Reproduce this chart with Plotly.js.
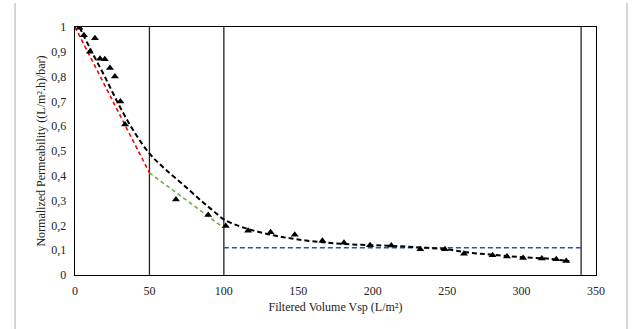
<!DOCTYPE html>
<html>
<head>
<meta charset="utf-8">
<script src="https://cdn.plot.ly/plotly-3.0.1.min.js"></script>
<style>html,body{margin:0;padding:0;background:#fff;}#chart{width:632px;height:329px;}</style>
</head>
<body>
<div id="chart"></div>
<script>
// Measured points
var volX = [3, 6, 13.4, 10, 16.8, 20, 23.5, 26.8, 30.5, 33.6, 67.8, 89.5, 101.3, 116.3, 131.4, 147.6, 166.2, 180.7, 198.2, 212.5, 232, 248.5, 261.3, 280.5, 290.2, 301, 313.6, 323.3, 330];
var perm = [0.997, 0.967, 0.955, 0.90, 0.872, 0.87, 0.835, 0.80, 0.70, 0.607, 0.304, 0.242, 0.198, 0.178, 0.172, 0.162, 0.138, 0.13, 0.12, 0.119, 0.104, 0.104, 0.086, 0.08, 0.075, 0.069, 0.067, 0.064, 0.056];

// Fitted trend (black dashed)
var fitX = [3, 10, 20, 30, 40, 50, 60, 72, 85, 93, 100, 110, 120, 135, 150, 170, 190, 210, 230, 250, 265, 280, 300, 320, 332];
var fitY = [1.0, 0.915, 0.80, 0.68, 0.575, 0.49, 0.43, 0.368, 0.298, 0.258, 0.224, 0.198, 0.179, 0.158, 0.143, 0.13, 0.122, 0.118, 0.112, 0.103, 0.09, 0.082, 0.072, 0.065, 0.055];

// Stage segments
var redX = [0, 50];   var redY = [1.0, 0.412];
var greenX = [50, 100]; var greenY = [0.412, 0.19];
var blueX = [100, 340]; var blueY = [0.11, 0.11];

// Stage boundaries
var boundaryX = [50, 100, 340];

var xTitle = 'Filtered Volume Vsp (L/m²)';
var yTitle = 'Normalized Permeability ((L/m².h)/bar)';

var traces = [
  {x: redX, y: redY, mode: 'lines', line: {color: '#ff0000', width: 1.6, dash: '4px,3px'}, hoverinfo: 'skip'},
  {x: greenX, y: greenY, mode: 'lines', line: {color: '#70ad47', width: 1.6, dash: '4px,3px'}, hoverinfo: 'skip'},
  {x: blueX, y: blueY, mode: 'lines', line: {color: '#2f5597', width: 1.6, dash: '5px,3px'}, hoverinfo: 'skip'},
  {x: fitX, y: fitY, mode: 'lines', line: {color: '#000000', width: 2, dash: '5px,3px', shape: 'spline', smoothing: 1}, hoverinfo: 'skip'},
  {x: volX, y: perm, mode: 'markers', marker: {symbol: 'triangle-up', size: 7, color: '#000000'}}
];

var shapes = boundaryX.map(function(v){
  return {type: 'line', xref: 'x', yref: 'y', x0: v, x1: v, y0: 0, y1: 1, line: {color: '#222', width: 1.3}, layer: 'below'};
});
shapes.push({type: 'line', xref: 'paper', yref: 'paper', x0: -0.115, x1: -0.115, y0: 1.097, y1: -0.3, line: {color: '#c8c8c8', width: 1.5}});
shapes.push({type: 'line', xref: 'paper', yref: 'paper', x0: 1.0595, x1: 1.0595, y0: 1.097, y1: -0.3, line: {color: '#c8c8c8', width: 1.5}});

var layout = {
  width: 632, height: 329, autosize: false,
  margin: {l: 75, r: 36, t: 27, b: 54},
  paper_bgcolor: '#ffffff', plot_bgcolor: '#ffffff',
  showlegend: false,
  separators: ',.',
  font: {family: '"Liberation Serif", "Times New Roman", serif', size: 12, color: '#222'},
  xaxis: {
    range: [0, 350], dtick: 50, tick0: 0, showgrid: false, zeroline: false,
    showline: true, mirror: true, linecolor: '#000', linewidth: 1.3,
    ticks: '', ticklen: 0, ticklabelstandoff: 4,
    title: {text: xTitle, standoff: 6, font: {size: 12}}
  },
  yaxis: {
    range: [0, 1], dtick: 0.1, tick0: 0, showgrid: false, zeroline: false,
    showline: true, mirror: true, linecolor: '#000', linewidth: 1.3,
    ticks: '', ticklen: 0, ticklabelstandoff: 5,
    title: {text: yTitle, standoff: 3, font: {size: 12}}
  },
  shapes: shapes
};

Plotly.newPlot('chart', traces, layout, {displayModeBar: false, staticPlot: true});
</script>
</body>
</html>
